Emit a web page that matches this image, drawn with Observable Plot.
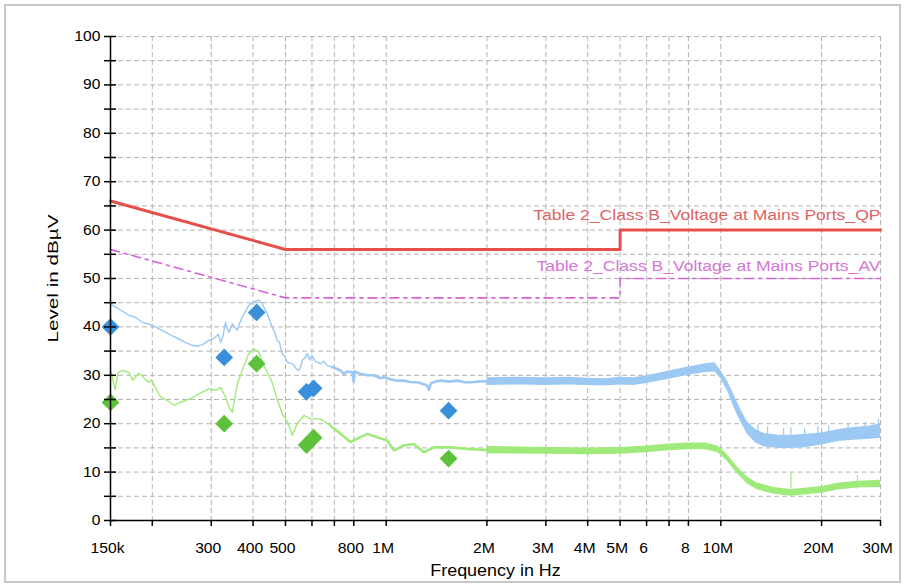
<!DOCTYPE html>
<html><head><meta charset="utf-8">
<script src="https://cdn.jsdelivr.net/npm/d3@7"></script>
<script src="https://cdn.jsdelivr.net/npm/@observablehq/plot@0.6"></script>
<style>
body{margin:0;background:#fff;}
#wrap{position:relative;width:906px;height:586px;overflow:hidden;}
#border{position:absolute;left:4px;top:4px;width:897px;height:579px;box-sizing:border-box;border:2px solid #c8c8c8;pointer-events:none;}
</style></head><body><div id="wrap"><div id="border"></div></div>
<script>
// ---- axis ticks ----
const xTicks = [150e3,200e3,300e3,400e3,500e3,600e3,700e3,800e3,1e6,2e6,3e6,4e6,5e6,6e6,7e6,8e6,10e6,20e6,30e6];
const xTickLabels = ["150k","","300","400","500","","","800","1M","2M","3M","4M","5M","6","","8","10M","20M","30M"];
const yTicks = [0,10,20,30,40,50,60,70,80,90,100];
const yMinorTicks = [0,5,10,15,20,25,30,35,40,45,50,55,60,65,70,75,80,85,90,95,100];
const xTitle = "Frequency in Hz";
const yTitle = "Level in dBµV";

// ---- limit lines (CISPR 32 Table 2, Class B, mains ports) ----
const limitFreq = [150e3, 500e3, 5e6, 5e6, 30e6];
const qpLimit = [66, 56, 56, 60, 60];
const avLimit = [56, 46, 46, 50, 50];
const qpLabel = "Table 2_Class B_Voltage at Mains Ports_QP";
const avLabel = "Table 2_Class B_Voltage at Mains Ports_AV";

// ---- peak trace (blue), low-frequency part, kHz / dBµV ----
const peakFreqKHz = [150,153,159,165,170,178,186,195,204,215,229,240,251,263,272,282,295,303,309,315,320,325,331,335,339,343,347,352,359,365,371,380,388,395,402,410,416,426,441,456,464,472,480,489,497,506,524,536,548,556,561,574,581,590,601,612,622,636,650,666,690,714,730,747,765,792,800,805,838,878,918,960,984,1030,1079,1130,1182,1250,1326,1341,1360,1400,1453,1540,1630,1730,1828,1950,2097,2200];
const peakLevel = [44.9,44.3,43.7,43.0,42.4,42.0,41.0,40.6,40.0,39.2,38.2,37.5,36.8,36.2,36.0,36.3,37.2,37.6,37.9,38.5,36.8,38.0,41.0,39.6,38.9,39.8,40.6,40.0,39.3,40.8,42.0,43.2,44.4,44.8,45.1,45.4,45.5,44.8,42.7,40.0,39.0,37.2,36.8,34.4,34.0,32.7,32.4,31.5,31.0,32.0,33.1,33.7,34.5,33.2,34.1,33.0,32.7,32.4,32.9,32.0,31.7,31.3,31.0,30.3,30.8,30.6,28.6,30.8,30.3,30.0,30.0,29.4,29.6,29.2,28.9,28.9,28.6,28.5,27.9,27.0,28.3,28.7,28.9,28.7,28.9,28.5,28.6,28.8,28.6,28.7];
// noisy band of the peak trace, MHz / low / high
const peakBandFreqMHz = [2.0,2.5,3.0,3.5,4.0,4.5,5.0,5.5,6.0,7.0,8.0,9.0,9.6,10.0,10.5,11.0,11.5,12.0,12.7,13.5,15.0,16.5,18.0,20.0,22.5,25.0,28.0,30.0];
const peakBandLow  = [27.9,28.0,27.9,28.0,27.9,27.8,28.0,27.9,28.3,29.2,30.0,30.6,30.7,29.3,26.6,23.0,20.2,17.8,16.0,15.2,14.9,14.9,15.1,15.6,16.3,16.6,16.8,17.0];
const peakBandHigh = [29.5,29.6,29.5,29.6,29.4,29.3,29.6,29.5,29.9,30.9,31.7,32.4,32.6,31.0,28.6,25.6,22.8,20.4,18.8,18.0,17.6,17.6,17.8,18.1,18.8,19.2,19.5,20.0];
const peakSpikeFreqMHz = [12.9,13.8,15.4,16.2,17.8,19.5,21.0,24.0,27.0,29.6];
const peakSpikeTop = [19.8,19.3,19.0,19.2,19.0,19.4,19.6,19.9,20.3,21.0];

// ---- average trace (green), low-frequency part, kHz / dBµV ----
const avgFreqKHz = [150,152,155,158,163,170,175,178,182,186,190,195,199,204,212,222,232,242,252,265,282,295,309,320,331,339,347,359,371,388,402,416,433,456,470,489,506,524,542,568,594,636,682,730,782,819,878,940,1007,1054,1129,1209,1296,1388,1557,1747,1958,2196];
const avgLevel = [31.0,29.5,27.0,30.6,31.0,30.6,29.0,29.6,30.4,30.0,29.2,28.6,29.0,27.5,25.5,24.8,23.8,24.4,24.8,25.5,26.5,27.2,26.9,27.5,25.5,23.4,22.4,28.2,31.0,34.4,35.5,34.8,31.7,28.6,25.5,22.0,20.5,17.6,20.0,21.7,21.0,21.0,19.6,17.9,16.2,16.9,17.9,17.2,16.5,14.5,15.5,15.8,14.1,15.1,15.1,14.8,14.6,14.8];
const avgBandFreqMHz = [2.0,3.0,4.0,5.0,6.0,7.0,8.0,9.0,9.8,10.4,11.2,12.0,12.8,14.4,16.2,18.1,20.3,22.3,25.6,30.0];
const avgBandLow  = [13.8,13.7,13.6,13.7,14.0,14.4,14.6,14.6,14.0,12.4,9.7,7.6,6.4,5.4,5.0,5.3,5.7,6.3,6.7,6.8];
const avgBandHigh = [15.3,15.1,15.0,15.1,15.4,15.8,16.0,16.0,15.4,13.8,11.1,9.0,7.8,6.8,6.4,6.7,7.1,7.7,8.1,8.3];
const avgSpikeFreqMHz = [16.2,25.6];
const avgSpikeTop = [10.0,9.3];

// ---- final measurements (diamonds) ----
const measFreqKHz = [150,328,410,578,607,1536];
const qpMeas = [40.0,33.7,43.0,26.6,27.3,22.7];
const avMeas = [24.4,20.0,32.4,15.6,17.1,12.8];

// ---- colours ----
const cQP = "#e5504a", cAV = "#d863d8";
const cPeak = "#9cc9f4", cAvg = "#a0ea7c";
const cPeakDot = "#3a8fdb", cAvgDot = "#5cc23a";
const cGrid = "#b4b4b4";

// ---- tables ----
const limits = limitFreq.map((f,i)=>({f, qp: qpLimit[i], av: avLimit[i]}));
const peak = peakFreqKHz.map((f,i)=>({f: f*1e3, v: peakLevel[i]}));
const peakLow = peak.filter(d=>d.f<=700e3);
const peakMid = peak.filter(d=>d.f>=690e3);
const peakBand = peakBandFreqMHz.map((f,i)=>({f: f*1e6, lo: peakBandLow[i], hi: peakBandHigh[i]}));
const peakSpikes = peakSpikeFreqMHz.map((f,i)=>({f: f*1e6, top: peakSpikeTop[i]}));
const avg = avgFreqKHz.map((f,i)=>({f: f*1e3, v: avgLevel[i]}));
const avgLow = avg.filter(d=>d.f<=700e3);
const avgMid = avg.filter(d=>d.f>=680e3);
const avgBand = avgBandFreqMHz.map((f,i)=>({f: f*1e6, lo: avgBandLow[i], hi: avgBandHigh[i]}));
const avgSpikes = avgSpikeFreqMHz.map((f,i)=>({f: f*1e6, top: avgSpikeTop[i]}));
const meas = measFreqKHz.map((f,i)=>({f: f*1e3, qp: qpMeas[i], av: avMeas[i]}));
const xLabelRows = xTicks.map((t,i)=>({t, label: xTickLabels[i]})).filter(d=>d.label);

const FONT = "'Liberation Sans', Arial, sans-serif";

const chart = Plot.plot({
  width: 906, height: 586,
  marginLeft: 110, marginRight: 26, marginTop: 36, marginBottom: 66,
  style: {fontFamily: FONT, color: "#000", background: "#fff", overflow: "visible"},
  x: {type: "log", domain: [150e3, 30e6], axis: null},
  y: {domain: [0, 100], axis: null},
  marks: [
    // grid
    Plot.ruleY(yMinorTicks.slice(1), {stroke: cGrid, strokeDasharray: "5,3", strokeWidth: 1}),
    Plot.ruleX(xTicks.slice(1), {stroke: cGrid, strokeDasharray: "5,3", strokeWidth: 1}),
    // limit labels
    Plot.text([qpLabel], {x: () => 30e6, y: () => 63.0, text: d => d, textAnchor: "end", fill: "#e06262", fontSize: 15}),
    Plot.text([avLabel], {x: () => 30e6, y: () => 52.6, text: d => d, textAnchor: "end", fill: "#d476d4", fontSize: 15}),
    // limits
    Plot.line(limits, {x: "f", y: "av", stroke: cAV, strokeWidth: 1.6, strokeDasharray: "9,5,3,5"}),
    Plot.line(limits, {x: "f", y: "qp", stroke: cQP, strokeWidth: 3}),
    // peak trace
    Plot.areaY(peakBand, {x: "f", y1: "lo", y2: "hi", fill: cPeak}),
    Plot.ruleX(peakSpikes, {x: "f", y1: () => 17, y2: "top", stroke: cPeak, strokeWidth: 1.2}),
    Plot.line(peakLow, {x: "f", y: "v", stroke: cPeak, strokeWidth: 1.4}),
    Plot.line(peakMid, {x: "f", y: "v", stroke: cPeak, strokeWidth: 2.6}),
    // average trace
    Plot.areaY(avgBand, {x: "f", y1: "lo", y2: "hi", fill: cAvg}),
    Plot.ruleX(avgSpikes, {x: "f", y1: () => 6.5, y2: "top", stroke: cAvg, strokeWidth: 1.2}),
    Plot.line(avgLow, {x: "f", y: "v", stroke: cAvg, strokeWidth: 1.4}),
    Plot.line(avgMid, {x: "f", y: "v", stroke: cAvg, strokeWidth: 2.6}),
    // measurements
    Plot.dot(meas, {x: "f", y: "qp", symbol: "diamond2", r: 8, fill: cPeakDot, stroke: "none"}),
    Plot.dot(meas, {x: "f", y: "av", symbol: "diamond2", r: 8, fill: cAvgDot, stroke: "none"}),
    // axes lines
    Plot.ruleX([150e3], {stroke: "#000", strokeWidth: 1.5}),
    Plot.ruleY([0], {stroke: "#000", strokeWidth: 1.5}),
    // y ticks (crossing the axis) and labels, with the rotated y title
    Plot.axisY(yMinorTicks, {tickSize: 12, dx: 6, fill: "none", label: null, strokeWidth: 1.5}),
    Plot.axisY(yTicks, {tickSize: 6, tickPadding: 4, stroke: "none", fontSize: 14,
      label: yTitle, labelAnchor: "center", labelOffset: 63, labelArrow: false}),
    // x ticks and labels
    Plot.axisX(xTicks, {tickSize: 6, fill: "none", label: null, strokeWidth: 1.5}),
    Plot.text(xLabelRows, {x: "t", y: () => 0, text: "label", dy: 28, dx: -3, fontSize: 14}),
    // x title
    Plot.text([xTitle], {frameAnchor: "bottom", dy: 55, text: d => d, fontSize: 16})
  ]
});

document.getElementById("wrap").prepend(chart);
// the original raster renders its text a little wide: stretch the text
chart.querySelectorAll("text").forEach(t => {
  const s = t.textContent;
  const len = t.getComputedTextLength();
  if (!(len > 0)) return;
  let target;
  if (s === yTitle) target = 128;
  else if (s === qpLabel || s === avLabel) target = len * 1.17;
  else target = len * 1.12;
  t.setAttribute("textLength", target.toFixed(1));
  t.setAttribute("lengthAdjust", "spacingAndGlyphs");
  if (s === yTitle) t.style.fontSize = "15px";
});
</script></body></html>
